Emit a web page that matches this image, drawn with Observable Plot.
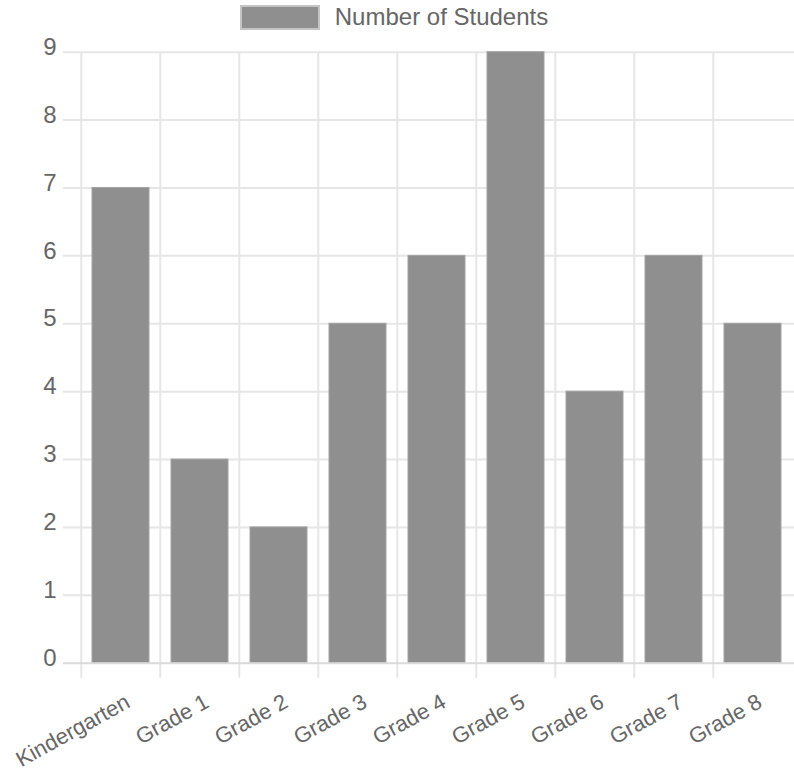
<!DOCTYPE html>
<html>
<head>
<meta charset="utf-8">
<script src="https://cdn.jsdelivr.net/npm/d3@7"></script>
<script src="https://cdn.jsdelivr.net/npm/@observablehq/plot@0.6"></script>
<style>
  html, body { margin: 0; padding: 0; background: #fff; }
  #chart { width: 794px; font-family: "Liberation Sans", Arial, Helvetica, sans-serif; color: #666; }
  #legend { height: 30px; display: flex; justify-content: center; align-items: flex-start; font-size: 24px; padding-right: 6px; box-sizing: border-box; }
  #legend .swatch { width: 80px; height: 25px; margin-top: 5px; background: #8f8f8f; border: 2px solid #c4c4c4; box-sizing: border-box; }
  #legend .label { margin-left: 15px; line-height: 34px; }
  svg { display: block; overflow: visible; }
</style>
</head>
<body>
<div id="chart">
  <div id="legend"><span class="swatch"></span><span class="label">Number of Students</span></div>
</div>
<script>
const categories = ["Kindergarten", "Grade 1", "Grade 2", "Grade 3", "Grade 4", "Grade 5", "Grade 6", "Grade 7", "Grade 8"];
const students = [7, 3, 2, 5, 6, 9, 4, 6, 5];
const yTicks = [0, 1, 2, 3, 4, 5, 6, 7, 8, 9];

const data = categories.map((c, i) => ({grade: c, count: students[i]}));

const width = 794, marginLeft = 79, marginRight = 0;
const step = (width - marginLeft - marginRight) / categories.length;
const grid = "#e6e6e6";

const plot = Plot.plot({
  width,
  height: 745,
  marginTop: 21.7,
  marginBottom: 112.3,
  marginLeft,
  marginRight,
  x: {domain: categories, padding: 0, axis: null},
  y: {domain: [0, 9], axis: null},
  style: {fontFamily: "'Liberation Sans', Arial, Helvetica, sans-serif", fontSize: "24px", color: "#666", background: "#fff", overflow: "visible"},
  marks: [
    Plot.ruleY(yTicks.filter(d => d > 0), {y: d => d, stroke: grid, strokeWidth: 2, insetLeft: -16}),
    Plot.ruleX(categories, {x: d => d, y1: 9, y2: 0, dx: -step / 2, stroke: grid, strokeWidth: 2, insetBottom: -15}),
    Plot.barY(data, {x: "grade", y: "count", fill: "#8f8f8f", stroke: "#a3a3a3", strokeWidth: 1, insetLeft: 11, insetRight: 11}),
    Plot.ruleY([0], {stroke: "#dadada", strokeWidth: 2, insetLeft: -16}),
    Plot.text(yTicks, {y: d => d, text: d => String(d), frameAnchor: "left", textAnchor: "end", dx: -23, dy: -5, fill: "#666"}),
    Plot.text(categories, {x: d => d, text: d => d, frameAnchor: "bottom", textAnchor: "end", lineAnchor: "middle", rotate: -29, dx: 7, dy: 37, fontSize: 22, fill: "#666"})
  ]
});
document.getElementById("chart").appendChild(plot);
</script>
</body>
</html>
